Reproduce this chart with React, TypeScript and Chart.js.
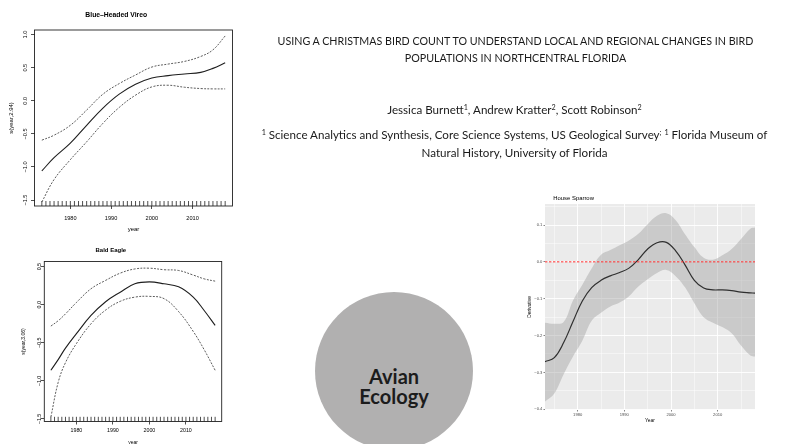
import React, { useEffect, useRef } from 'react';
import { Chart, registerables } from 'chart.js';

Chart.register(...registerables);

// ---------------- DATA ----------------
// rug (years with observations)
const rugYears = [1973, 1974, 1975, 1976, 1977, 1978, 1979, 1980, 1981, 1982, 1983, 1984, 1985, 1986, 1987, 1988,
  1989, 1990, 1991, 1992, 1993, 1994, 1995, 1996, 1997, 1998, 1999, 2000, 2001, 2002, 2003, 2004, 2005, 2006,
  2007, 2008, 2009, 2010, 2011, 2012, 2013, 2014, 2015, 2016, 2017, 2018];

const rXTicks = [1980, 1990, 2000, 2010];

// Blue-Headed Vireo: s(year,2.94)
const vireoYears = [1973, 1976, 1980, 1984, 1988, 1992, 1996, 2000, 2004, 2008, 2012, 2015, 2018];
const vireoFit = [-1.06, -0.86, -0.64, -0.37, -0.11, 0.10, 0.25, 0.345, 0.38, 0.405, 0.43, 0.49, 0.575];
const vireoUpper = [-0.595, -0.52, -0.37, -0.14, 0.10, 0.26, 0.39, 0.51, 0.555, 0.595, 0.67, 0.77, 0.98];
const vireoLower = [-1.53, -1.19, -0.89, -0.62, -0.34, -0.10, 0.085, 0.21, 0.235, 0.205, 0.185, 0.18, 0.18];
const vireoYTicks = [-1.5, -1.0, -0.5, 0.0, 0.5, 1.0];

// Bald Eagle: s(year,3.06)
const eagleYears = [1973, 1975, 1977, 1980, 1984, 1988, 1992, 1996, 2000, 2004, 2008, 2012, 2015, 2018];
const eagleFit = [-0.86, -0.72, -0.57, -0.38, -0.14, 0.04, 0.165, 0.275, 0.30, 0.275, 0.235, 0.10, -0.075, -0.27];
const eagleUpper = [-0.28, -0.21, -0.12, 0.03, 0.21, 0.32, 0.415, 0.47, 0.48, 0.46, 0.45, 0.39, 0.34, 0.31];
const eagleLower = [-1.475, -1.02, -0.76, -0.51, -0.25, -0.07, 0.045, 0.10, 0.11, 0.08, -0.09, -0.35, -0.59, -0.86];
const eagleYTicks = [-1.5, -1.0, -0.5, 0.0, 0.5];

// House Sparrow: derivative with confidence band
const sparrowYears = [1973, 1975, 1977, 1979, 1981, 1983, 1985, 1987, 1989, 1991, 1993, 1995, 1997, 1999, 2001,
  2003, 2005, 2007, 2009, 2011, 2013, 2015, 2017, 2018];
const sparrowFit = [-0.271, -0.260, -0.219, -0.162, -0.106, -0.070, -0.050, -0.038, -0.029, -0.017, 0.006, 0.035,
  0.052, 0.053, 0.030, -0.008, -0.050, -0.071, -0.076, -0.076, -0.078, -0.082, -0.084, -0.085];
const sparrowUpper = [-0.165, -0.168, -0.163, -0.105, -0.062, -0.018, 0.019, 0.032, 0.045, 0.058, 0.076, 0.102,
  0.125, 0.132, 0.113, 0.075, 0.040, 0.011, 0.006, 0.018, 0.035, 0.062, 0.090, 0.093];
const sparrowLower = [-0.379, -0.357, -0.305, -0.257, -0.214, -0.160, -0.138, -0.121, -0.110, -0.093, -0.067, -0.047,
  -0.030, -0.022, -0.039, -0.069, -0.112, -0.150, -0.165, -0.177, -0.194, -0.227, -0.254, -0.257];
const sparrowZero = 0;
const sparrowXTicks = [1975, 1980, 1985, 1990, 1995, 2000, 2005, 2010, 2015];
const sparrowYTicks = [-0.4, -0.35, -0.3, -0.25, -0.2, -0.15, -0.1, -0.05, 0, 0.05, 0.1, 0.15];

// ---------------- HELPERS ----------------
const RFONT = "'Liberation Sans', Arial, Helvetica, sans-serif";
const pts = (xs: number[], ys: number[]) => xs.map((x, i) => ({ x, y: ys[i] }));
const fmt1 = (v: number) => (Math.abs(v) < 1e-9 ? '0.0' : v.toFixed(1).replace('-', '\u2212'));

const rDecor = {
  id: 'rDecor',
  afterDraw(chart: any, _args: any, opts: any) {
    const { ctx, chartArea: a, scales } = chart;
    const xs = scales.x;
    const ys = scales.y;
    ctx.save();
    // rug
    ctx.strokeStyle = '#222';
    ctx.lineWidth = 0.8;
    ctx.beginPath();
    for (const yr of opts.rug) {
      const px = xs.getPixelForValue(yr);
      ctx.moveTo(px, a.bottom);
      ctx.lineTo(px, a.bottom - opts.rugLen);
    }
    ctx.stroke();
    // box
    ctx.lineWidth = 0.9;
    ctx.strokeRect(a.left, a.top, a.right - a.left, a.bottom - a.top);
    // rotated y tick labels (R style)
    ctx.fillStyle = '#000';
    ctx.font = `${opts.tickSize}px ${RFONT}`;
    ctx.textAlign = 'center';
    ctx.textBaseline = 'middle';
    for (const t of ys.ticks) {
      const py = ys.getPixelForValue(t.value);
      ctx.save();
      ctx.translate(opts.yTickX, py);
      ctx.rotate(-Math.PI / 2);
      ctx.fillText(fmt1(t.value), 0, 0);
      ctx.restore();
    }
    ctx.restore();
  },
};

interface RSpec {
  title: string; yLabel: string;
  years: number[]; fit: number[]; upper: number[]; lower: number[]; yTicks: number[];
  xMin: number; xMax: number; yMin: number; yMax: number;
  W: number; H: number; l: number; t: number; r: number; b: number;
  titleSize: number; titleCenterY: number;
  tickSize: number; yLabelSize: number; yLabelX: number;
  xTickPad: number; xLabelFromBottom: number; yTickX: number; rugLen: number;
}

function rConfig(s: RSpec): any {
  const lhY = s.yLabelSize * 1.2;
  const lhX = s.yLabelSize * 1.2;
  const titlePadTop = s.titleCenterY - s.titleSize / 2;
  return {
    type: 'line',
    data: {
      datasets: [
        { data: pts(s.years, s.fit), borderColor: '#1e1e1e', borderWidth: 1.1, pointRadius: 0, tension: 0.4, fill: false },
        { data: pts(s.years, s.upper), borderColor: '#4a4a4a', borderWidth: 0.9, borderDash: [2, 1.4], pointRadius: 0, tension: 0.4, fill: false },
        { data: pts(s.years, s.lower), borderColor: '#4a4a4a', borderWidth: 0.9, borderDash: [2, 1.4], pointRadius: 0, tension: 0.4, fill: false },
      ],
    },
    options: {
      responsive: true,
      maintainAspectRatio: false,
      animation: false,
      events: [],
      layout: { padding: { left: 0, top: 0, right: s.W - s.r, bottom: 0 } },
      plugins: {
        legend: { display: false },
        tooltip: { enabled: false },
        title: {
          display: true, text: s.title, color: '#000',
          font: { family: RFONT, size: s.titleSize, weight: 'bold', lineHeight: 1 },
          padding: { top: titlePadTop, bottom: s.t - titlePadTop - s.titleSize },
        },
        rDecor: { rug: rugYears, rugLen: s.rugLen, tickSize: s.tickSize, yTickX: s.yTickX },
      },
      scales: {
        x: {
          type: 'linear', min: s.xMin, max: s.xMax,
          afterBuildTicks: (sc: any) => { sc.ticks = rXTicks.map((v) => ({ value: v })); },
          afterFit: (sc: any) => { sc.height = s.H - s.b; },
          ticks: { font: { family: RFONT, size: s.tickSize, lineHeight: 1.2 }, color: '#000', padding: s.xTickPad, maxRotation: 0, autoSkip: false, callback: (v: any) => String(v) },
          grid: { drawOnChartArea: false, drawTicks: true, tickLength: 3, tickColor: '#222', tickWidth: 0.8 },
          border: { display: false },
          title: { display: true, text: 'year', color: '#000', font: { family: RFONT, size: s.yLabelSize, lineHeight: 1.2 }, padding: { top: 0, bottom: s.xLabelFromBottom - lhX / 2 } },
        },
        y: {
          type: 'linear', min: s.yMin, max: s.yMax,
          afterBuildTicks: (sc: any) => { sc.ticks = s.yTicks.map((v) => ({ value: v })); },
          afterFit: (sc: any) => { sc.width = s.l; },
          ticks: { display: false },
          grid: { drawOnChartArea: false, drawTicks: true, tickLength: 3.5, tickColor: '#222', tickWidth: 0.8 },
          border: { display: false },
          title: { display: true, text: s.yLabel, color: '#000', font: { family: RFONT, size: s.yLabelSize, lineHeight: 1.2 }, padding: { top: s.yLabelX - lhY / 2, bottom: 0 } },
        },
      },
    },
    plugins: [rDecor],
  };
}

const vireoSpec: RSpec = {
  title: 'Blue\u2013Headed Vireo', yLabel: 's(year,2.94)',
  years: vireoYears, fit: vireoFit, upper: vireoUpper, lower: vireoLower, yTicks: vireoYTicks,
  xMin: 1971.2, xMax: 2019.8, yMin: -1.59, yMax: 1.07,
  W: 270, H: 240, l: 34.5, t: 30, r: 232.5, b: 206,
  titleSize: 6.8, titleCenterY: 15,
  tickSize: 5.6, yLabelSize: 6, yLabelX: 11.7,
  xTickPad: 6, xLabelFromBottom: 10.5, yTickX: 25, rugLen: 5,
};

const eagleSpec: RSpec = {
  title: 'Bald Eagle', yLabel: 's(year,3.06)',
  years: eagleYears, fit: eagleFit, upper: eagleUpper, lower: eagleLower, yTicks: eagleYTicks,
  xMin: 1971.2, xMax: 2019.8, yMin: -1.533, yMax: 0.568,
  W: 270, H: 215, l: 44.3, t: 26.5, r: 221.7, b: 186.5,
  titleSize: 6, titleCenterY: 15,
  tickSize: 5.3, yLabelSize: 5, yLabelX: 23.3,
  xTickPad: 3.2, xLabelFromBottom: 7, yTickX: 40, rugLen: 4.7,
};

const sparrowDecor = {
  id: 'sparrowDecor',
  beforeDraw(chart: any) {
    const { ctx, chartArea: a } = chart;
    ctx.save();
    ctx.fillStyle = '#ebebeb';
    ctx.fillRect(a.left, a.top, a.right - a.left, a.bottom - a.top);
    ctx.restore();
  },
  afterDraw(chart: any, _args: any, opts: any) {
    const { ctx, chartArea: a } = chart;
    ctx.save();
    ctx.fillStyle = '#000';
    ctx.font = `${opts.size}px ${RFONT}`;
    ctx.textAlign = 'left';
    ctx.textBaseline = 'middle';
    ctx.fillText(opts.text, a.left + opts.dx, opts.y);
    ctx.restore();
  },
};

const isMajorY = (v: number) => Math.abs(v * 10 - Math.round(v * 10)) < 1e-6;
const isMajorX = (v: number) => Math.abs(v % 10) < 1e-6;

function sparrowConfig(): any {
  const W = 270, H = 264, l = 25, t = 24, r = 235, b = 230;
  const axisTitleSize = 4.9;
  const lh = axisTitleSize * 1.2;
  return {
    type: 'line',
    data: {
      datasets: [
        { label: 'zero', data: [{ x: sparrowYears[0], y: sparrowZero }, { x: sparrowYears[sparrowYears.length - 1], y: sparrowZero }], borderColor: '#ff2b2b', borderWidth: 1, borderDash: [2.4, 1.6], pointRadius: 0, fill: false },
        { label: 'fit', data: pts(sparrowYears, sparrowFit), borderColor: '#2f2f2f', borderWidth: 1.2, pointRadius: 0, tension: 0.4, fill: false },
        { label: 'upper', data: pts(sparrowYears, sparrowUpper), borderWidth: 0, borderColor: 'rgba(0,0,0,0)', backgroundColor: 'rgba(153,153,153,0.4)', pointRadius: 0, tension: 0.4, fill: '+1' },
        { label: 'lower', data: pts(sparrowYears, sparrowLower), borderWidth: 0, borderColor: 'rgba(0,0,0,0)', pointRadius: 0, tension: 0.4, fill: false },
      ],
    },
    options: {
      responsive: true,
      maintainAspectRatio: false,
      animation: false,
      events: [],
      layout: { padding: { left: 0, top: t, right: W - r, bottom: 0 } },
      plugins: {
        legend: { display: false },
        tooltip: { enabled: false },
        title: { display: false },
        sparrowDecor: { text: 'House Sparrow', size: 5.9, dx: 8.3, y: 18.3 },
      },
      scales: {
        x: {
          type: 'linear', min: sparrowYears[0], max: sparrowYears[sparrowYears.length - 1],
          afterBuildTicks: (sc: any) => { sc.ticks = sparrowXTicks.map((v) => ({ value: v })); },
          afterFit: (sc: any) => { sc.height = H - b; },
          ticks: { font: { family: RFONT, size: 4.1, lineHeight: 1.2 }, color: '#4d4d4d', padding: 1.2, maxRotation: 0, autoSkip: false,
            callback: (v: any) => (isMajorX(v) ? String(v) : '') },
          grid: {
            color: '#ffffff', drawOnChartArea: true, drawTicks: true, tickLength: 1.5,
            lineWidth: (c: any) => (c.tick && isMajorX(c.tick.value) ? 0.9 : 0.45),
            tickColor: (c: any) => (c.tick && isMajorX(c.tick.value) ? '#333' : 'rgba(0,0,0,0)'),
            tickWidth: 0.6,
          },
          border: { display: false },
          title: { display: true, text: 'Year', color: '#000', font: { family: RFONT, size: axisTitleSize, lineHeight: 1.2 }, padding: { top: 0, bottom: (H - 240.7) - lh / 2 } },
        },
        y: {
          type: 'linear', min: -0.402, max: 0.157,
          afterBuildTicks: (sc: any) => { sc.ticks = sparrowYTicks.map((v) => ({ value: v })); },
          afterFit: (sc: any) => { sc.width = l; },
          ticks: { font: { family: RFONT, size: 4.1, lineHeight: 1.2 }, color: '#4d4d4d', padding: 1.1, autoSkip: false,
            callback: (v: any) => (isMajorY(v) ? fmt1(v) : '') },
          grid: {
            color: '#ffffff', drawOnChartArea: true, drawTicks: true, tickLength: 1.5,
            lineWidth: (c: any) => (c.tick && isMajorY(c.tick.value) ? 0.9 : 0.45),
            tickColor: (c: any) => (c.tick && isMajorY(c.tick.value) ? '#333' : 'rgba(0,0,0,0)'),
            tickWidth: 0.6,
          },
          border: { display: false },
          title: { display: true, text: 'Derivative', color: '#000', font: { family: RFONT, size: axisTitleSize, lineHeight: 1.2 }, padding: { top: 10 - lh / 2, bottom: 0 } },
        },
      },
    },
    plugins: [sparrowDecor],
  };
}

// ---------------- COMPONENTS ----------------
function ChartBox(props: { left: number; top: number; width: number; height: number; make: () => any }) {
  const ref = useRef<HTMLCanvasElement>(null);
  useEffect(() => {
    const chart = new Chart(ref.current as HTMLCanvasElement, props.make());
    return () => chart.destroy();
  }, []);
  return (
    <div style={{ position: 'absolute', left: props.left, top: props.top, width: props.width, height: props.height }}>
      <canvas ref={ref} />
    </div>
  );
}

const TFONT = "Lato, 'Noto Sans', sans-serif";
const sup = (s: string) => (
  <span style={{ fontSize: '0.62em', position: 'relative', top: '-0.45em' }}>{s}</span>
);

const textBase: React.CSSProperties = {
  position: 'absolute', width: 600, lineHeight: '16.7px', fontFamily: TFONT,
  color: '#1a1a1a', textAlign: 'center', whiteSpace: 'nowrap',
};

export default function App() {
  return (
    <div style={{ position: 'fixed', left: 0, top: 0, width: 790, height: 444, overflow: 'hidden', background: '#fff' }}>
      <ChartBox left={0} top={0} width={270} height={240} make={() => rConfig(vireoSpec)} />
      <ChartBox left={0} top={235} width={270} height={215} make={() => rConfig(eagleSpec)} />
      <ChartBox left={520} top={180} width={270} height={264} make={sparrowConfig} />

      <div style={{ ...textBase, left: 215.5, top: 33.3, fontSize: 10.7 }}>
        USING A CHRISTMAS BIRD COUNT TO UNDERSTAND LOCAL AND REGIONAL CHANGES IN BIRD<br />
        POPULATIONS IN NORTHCENTRAL FLORIDA
      </div>
      <div style={{ ...textBase, left: 214.5, top: 101.6, fontSize: 11.6 }}>
        Jessica Burnett{sup('1')}, Andrew Kratter{sup('2')}, Scott Robinson{sup('2')}
      </div>
      <div style={{ ...textBase, left: 214.5, top: 126.6, fontSize: 11.6 }}>
        {sup('1')} Science Analytics and Synthesis, Core Science Systems, US Geological Survey{sup(';')} {sup('1')} Florida Museum of<br />
        Natural History, University of Florida
      </div>

      <div style={{ position: 'absolute', left: 315, top: 291.7, width: 158, height: 158, borderRadius: '50%', background: '#b1b0b0' }} />
      <div style={{ position: 'absolute', left: 315, width: 158, top: 367.2, lineHeight: '19.7px', fontFamily: TFONT, fontSize: 20, fontWeight: 700, color: '#1c1c1c', textAlign: 'center' }}>
        Avian<br />Ecology
      </div>
    </div>
  );
}
